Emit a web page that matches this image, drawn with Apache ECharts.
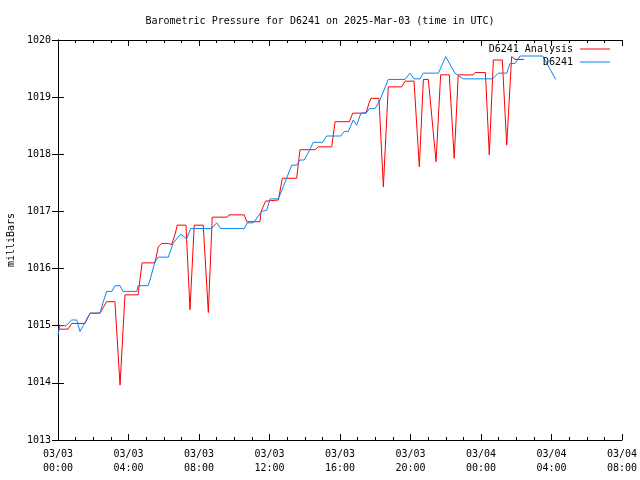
<!DOCTYPE html>
<html>
<head>
<meta charset="utf-8">
<script src="https://cdn.jsdelivr.net/npm/echarts@6/dist/echarts.min.js"></script>
<style>html,body{margin:0;padding:0;background:#fff;}#c{width:640px;height:480px;}</style>
</head>
<body>
<div id="c"></div>
<script>
// Hours since 2025-03-03 00:00 UTC
var analysisHours = [0.00,0.57,0.78,1.53,1.82,2.38,2.76,3.23,3.52,3.80,4.54,4.77,5.50,5.69,5.88,6.26,6.45,6.64,6.77,7.26,7.49,7.73,8.24,8.53,8.75,9.61,9.70,10.57,10.71,11.46,11.52,11.78,11.84,12.50,12.73,13.54,13.73,14.58,14.77,15.53,15.72,16.53,16.72,17.48,17.65,17.76,18.21,18.46,18.74,19.50,19.69,20.20,20.50,20.73,21.01,21.45,21.71,22.20,22.48,22.71,23.56,23.66,24.25,24.47,24.70,25.21,25.46,25.74,25.93,26.44];
var analysisValues = [1014.94,1014.94,1015.04,1015.04,1015.22,1015.22,1015.42,1015.42,1013.96,1015.54,1015.54,1016.10,1016.10,1016.38,1016.44,1016.44,1016.42,1016.60,1016.76,1016.76,1015.28,1016.76,1016.76,1015.23,1016.90,1016.90,1016.94,1016.94,1016.82,1016.82,1017.00,1017.18,1017.20,1017.20,1017.58,1017.58,1018.08,1018.08,1018.13,1018.13,1018.57,1018.57,1018.72,1018.72,1018.90,1018.98,1018.98,1017.43,1019.18,1019.18,1019.28,1019.28,1017.78,1019.31,1019.31,1017.87,1019.39,1019.39,1017.93,1019.39,1019.39,1019.43,1019.43,1017.99,1019.65,1019.65,1018.16,1019.71,1019.66,1019.66];

var obsHours = [0.00,0.11,0.45,0.78,1.06,1.25,1.82,2.38,2.57,2.76,3.05,3.23,3.52,3.69,4.47,4.54,5.11,5.22,5.50,5.69,6.26,6.54,6.96,7.30,7.53,8.72,9.00,9.23,10.57,10.74,11.08,11.56,11.84,12.03,12.50,12.78,13.26,13.54,13.73,13.97,14.30,14.48,15.02,15.24,16.04,16.24,16.47,16.75,16.94,17.19,17.51,17.66,17.99,18.27,18.74,19.69,19.97,20.20,20.54,20.73,21.58,22.00,22.52,22.99,24.66,24.98,25.46,25.65,25.93,26.21,27.50,28.24];
var obsValues = [1014.84,1015.00,1015.00,1015.10,1015.10,1014.90,1015.22,1015.22,1015.42,1015.60,1015.60,1015.70,1015.70,1015.60,1015.60,1015.70,1015.70,1015.80,1016.12,1016.20,1016.20,1016.45,1016.60,1016.52,1016.70,1016.70,1016.80,1016.70,1016.70,1016.80,1016.80,1017.00,1017.02,1017.22,1017.22,1017.43,1017.81,1017.81,1017.90,1017.90,1018.09,1018.21,1018.21,1018.32,1018.32,1018.40,1018.40,1018.60,1018.51,1018.72,1018.73,1018.80,1018.80,1018.95,1019.31,1019.31,1019.42,1019.32,1019.32,1019.42,1019.42,1019.71,1019.42,1019.32,1019.32,1019.42,1019.42,1019.59,1019.59,1019.72,1019.72,1019.31];

var titleText = 'Barometric Pressure for D6241 on 2025-Mar-03 (time in UTC)';
var seriesNames = ['D6241 Analysis', 'D6241'];
var dayLabels = ['03/03', '03/04'];

function zip(a, b) { return a.map(function (v, i) { return [v, b[i]]; }); }

var FONT = 'DejaVu Sans Mono';
var chart = echarts.init(document.getElementById('c'), null, { renderer: 'canvas' });

function xFmt(v) {
  var d = Math.floor(v / 24);
  var h = v - d * 24;
  return dayLabels[d] + '\n' + (h < 10 ? '0' : '') + h + ':00';
}

var xCommon = {
  type: 'value', min: 0, max: 32, interval: 4,
  axisLine: { show: true, lineStyle: { color: '#000', width: 1 } },
  axisTick: { show: true, inside: true, length: 6, lineStyle: { color: '#000' } },
  minorTick: { show: true, splitNumber: 4, length: 3, lineStyle: { color: '#000' } },
  splitLine: { show: false }
};
var yCommon = {
  type: 'value', min: 1013, max: 1020, interval: 1,
  axisLine: { show: true, lineStyle: { color: '#000', width: 1 } },
  axisTick: { show: true, inside: true, length: 6, lineStyle: { color: '#000' } },
  splitLine: { show: false }
};

var legendText = { fontFamily: FONT, fontSize: 10, color: '#000', padding: [0, 2, 0, 0] };

chart.setOption({
  animation: false,
  backgroundColor: '#fff',
  title: {
    text: titleText, left: 'center', top: 11,
    textStyle: { fontFamily: FONT, fontSize: 10, fontWeight: 'normal', color: '#000' }
  },
  grid: { left: 58, right: 18, top: 40, bottom: 40, containLabel: false, outerBoundsMode: 'none' },
  legend: [
    {
      data: [seriesNames[0]], right: 30, top: 44, align: 'right', orient: 'vertical', padding: 0,
      itemWidth: 30, itemHeight: 1, icon: 'rect', textStyle: legendText
    },
    {
      data: [seriesNames[1]], right: 30, top: 57, align: 'right', orient: 'vertical', padding: 0,
      itemWidth: 30, itemHeight: 1, icon: 'rect', textStyle: legendText
    }
  ],
  xAxis: [
    Object.assign({}, xCommon, {
      position: 'bottom',
      axisLabel: { show: true, formatter: xFmt, fontFamily: FONT, fontSize: 10, color: '#000', lineHeight: 14, margin: 7 }
    }),
    Object.assign({}, xCommon, { position: 'top', axisLabel: { show: false } })
  ],
  yAxis: [
    Object.assign({}, yCommon, {
      position: 'left',
      name: 'milliBars', nameLocation: 'middle', nameGap: 42, nameRotate: 90,
      nameTextStyle: { fontFamily: FONT, fontSize: 10, color: '#000' },
      axisLabel: { show: true, fontFamily: FONT, fontSize: 10, color: '#000', margin: 7,
        formatter: function (v) { return String(v); } }
    }),
    Object.assign({}, yCommon, { position: 'right', axisLabel: { show: false } })
  ],
  series: [
    {
      name: seriesNames[0], type: 'line', xAxisIndex: 0, yAxisIndex: 0,
      data: zip(analysisHours, analysisValues), showSymbol: false, symbol: 'none',
      color: '#ff0000', lineStyle: { color: '#ff0000', width: 1 }
    },
    {
      name: seriesNames[1], type: 'line', xAxisIndex: 0, yAxisIndex: 0,
      data: zip(obsHours, obsValues), showSymbol: false, symbol: 'none',
      color: '#0a84f0', lineStyle: { color: '#0a84f0', width: 1 }
    }
  ]
});
</script>
</body>
</html>
